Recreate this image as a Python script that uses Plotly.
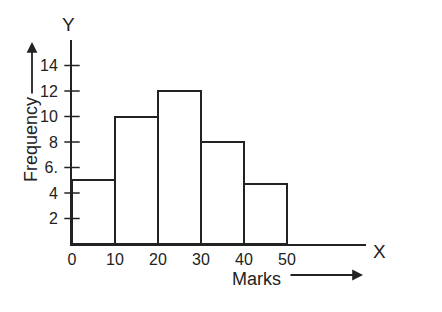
import plotly.graph_objects as go

# Data
class_starts = [0, 10, 20, 30, 40]
class_width = 10
frequency = [5, 10, 12, 8, 4.7]
x_tick_vals = [0, 10, 20, 30, 40, 50]
x_tick_text = ["0", "10", "20", "30", "40", "50"]
y_tick_vals = [2, 4, 6, 8, 10, 12, 14]
y_tick_text = ["2", "4", "6.", "8", "10", "12", "14"]

W, H = 442, 312
L, R, T, B = 72, 76, 40, 68
pw, ph = W - L - R, H - T - B
INK = "#222222"
FONT = "Liberation Sans, Arial, sans-serif"

def px(x, y):
    return (x - L) / pw, (H - B - y) / ph

fig = go.Figure()
fig.add_trace(go.Bar(
    x=[s + class_width / 2 for s in class_starts],
    y=frequency,
    width=class_width,
    marker=dict(color="white", line=dict(color=INK, width=2)),
    hoverinfo="skip",
))
# y tick marks crossing the axis
fig.add_trace(go.Scatter(
    x=[0] * len(y_tick_vals), y=y_tick_vals, mode="markers",
    marker=dict(symbol="line-ew", size=11, line=dict(color=INK, width=1.5)),
    cliponaxis=False, hoverinfo="skip",
))

annotations = []
def txt(t, x, y, size, angle=0):
    xp, yp = px(x, y)
    annotations.append(dict(text=t, x=xp, y=yp, xref="paper", yref="paper",
                            showarrow=False, textangle=angle,
                            font=dict(size=size, color=INK, family=FONT),
                            xanchor="center", yanchor="middle"))
def arrow(hx, hy, tx, ty):
    xp, yp = px(hx, hy)
    annotations.append(dict(text="", x=xp, y=yp, xref="paper", yref="paper",
                            showarrow=True, ax=tx - hx, ay=ty - hy,
                            arrowhead=2, arrowsize=1.2, arrowwidth=1.8,
                            arrowcolor=INK))

txt("Frequency", 31, 140, 18, -90)
arrow(32, 42, 32, 95)
txt("Marks", 256, 279, 18)
arrow(363, 275, 289, 275)
txt("Y", 68, 24, 19)
txt("X", 379, 251, 19)

fig.update_layout(
    width=W, height=H, margin=dict(l=L, r=R, t=T, b=B),
    paper_bgcolor="white", plot_bgcolor="white",
    showlegend=False, bargap=0, annotations=annotations,
    font=dict(family=FONT, color=INK, size=16),
)
fig.update_xaxes(range=[0, pw / 4.3], showgrid=False, zeroline=False,
                 showline=True, linecolor=INK, linewidth=1.8,
                 tickvals=x_tick_vals, ticktext=x_tick_text, ticks="",
                 ticklabelstandoff=0, tickfont=dict(size=16, family=FONT, color=INK))
fig.update_yaxes(range=[0, 16], showgrid=False, zeroline=False,
                 showline=True, linecolor=INK, linewidth=1.8,
                 tickvals=y_tick_vals, ticktext=y_tick_text, ticks="",
                 ticklabelstandoff=9, tickfont=dict(size=16, family=FONT, color=INK))

fig.write_html("out.html")
